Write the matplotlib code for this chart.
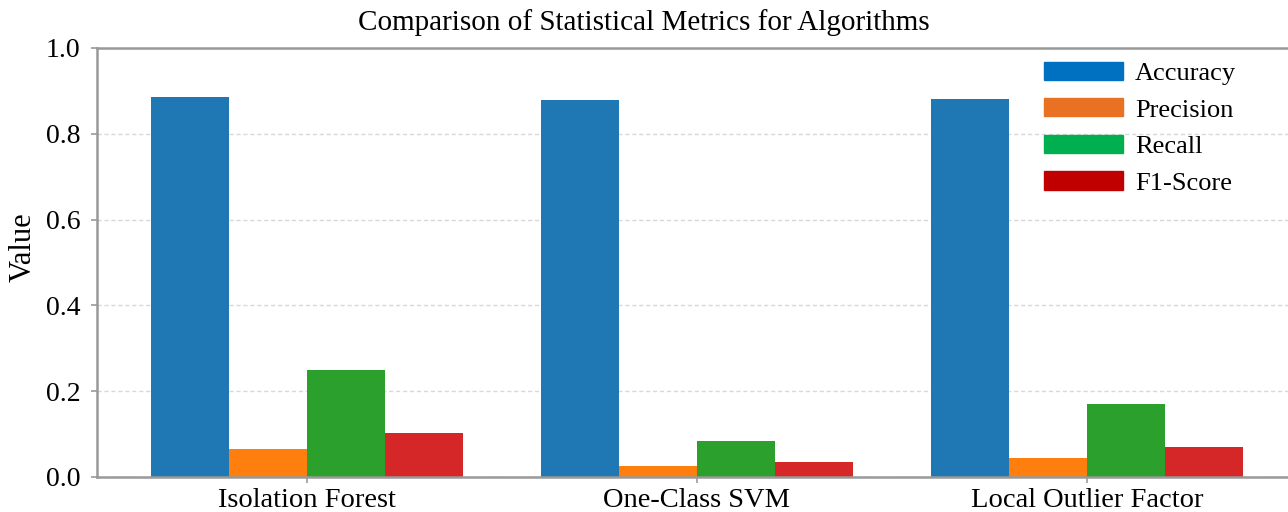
import matplotlib
matplotlib.use("Agg")
import matplotlib.pyplot as plt
import matplotlib.patches as mpatches
import numpy as np

plt.rcParams['font.family'] = ['Liberation Serif', 'DejaVu Serif']

algoritmos = ["Isolation Forest", "One-Class SVM", "Local Outlier Factor"]
metricas = ["Accuracy", "Precision", "Recall", "F1-Score"]
accuracy = [0.886, 0.879, 0.881]
precision = [0.065, 0.025, 0.045]
recall = [0.249, 0.084, 0.169]
f1_score = [0.103, 0.036, 0.069]

colores_barras = ["#1f77b4", "#ff7f0e", "#2ca02c", "#d62728"]
colores_leyenda = ["#0070C0", "#E97123", "#00B050", "#C00000"]

fig = plt.figure(figsize=(12.88, 5.12), dpi=100)
ax = fig.add_axes([0.0753, 0.0684, 0.9247, 0.8379])

x = np.arange(len(algoritmos))
ancho = 0.2
for i, valores in enumerate([accuracy, precision, recall, f1_score]):
    ax.bar(x + (i - 1.5) * ancho, valores, ancho, color=colores_barras[i], zorder=2)

ax.set_xlim(-0.538, 2.516)
ax.set_ylim(0, 1.0)
ax.set_xticks(x)
ax.set_xticklabels(algoritmos, fontsize=20.5)
ax.set_yticks(np.arange(0, 1.01, 0.2))
ax.set_yticklabels([f"{v:.1f}" for v in np.arange(0, 1.01, 0.2)], fontsize=20)
ax.set_ylabel("Value", fontsize=22)
ax.yaxis.set_label_coords(-0.050, 0.536)
fig.text(0.5, 0.957, "Comparison of Statistical Metrics for Algorithms", fontsize=21,
         ha="center", va="center")

ax.grid(axis="y", linestyle=(0, (3, 2)), color="#d8d8d8", linewidth=1, zorder=0)
for lado in ["left", "top", "bottom"]:
    ax.spines[lado].set_color("#999999")
    ax.spines[lado].set_linewidth(1.8)
ax.spines["right"].set_visible(False)
ax.tick_params(axis="y", colors="#999999", length=4, width=1.2, labelcolor="black", pad=8)
ax.tick_params(axis="x", colors="#999999", length=4, width=1.2, labelcolor="black", pad=4)

handles = [mpatches.Patch(color=c, label=m) for c, m in zip(colores_leyenda, metricas)]
ax.legend(handles=handles, loc="upper left", bbox_to_anchor=(0.775, 1.023), frameon=False,
          fontsize=19, handlelength=3.0, handleheight=0.68, handletextpad=0.45, labelspacing=0.5)

fig.savefig("out.png", dpi=100)
